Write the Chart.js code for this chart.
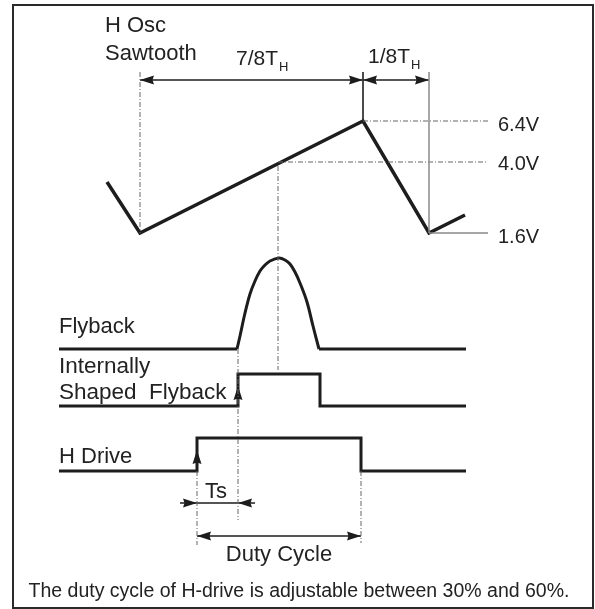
<!DOCTYPE html>
<html>
<head>
<meta charset="utf-8">
<script src="https://cdn.jsdelivr.net/npm/chart.js@4"></script>
<style>
  html, body { margin: 0; padding: 0; background: #fff; }
  #diagram { display: block; }
</style>
</head>
<body>
<canvas id="diagram" width="595" height="609"></canvas>
<script>
// waveform vertices (x = time, y = level)
const sawX = [107, 140, 363, 429, 465];
const sawY = [182, 233, 121, 233, 215];

const flybackBaseX = [59, 237];
const flybackTailX = [319, 466];
const flybackBaseY = 349;
const flybackArchX = [237, 240, 245, 250, 255, 260, 265, 270, 279, 285, 290, 295, 300, 307, 313, 319];
const flybackArchY = [349, 336, 313, 294, 281, 271, 265, 261, 258, 260, 264, 272, 283, 302, 326, 349];

const shapedX = [59, 238, 238, 320, 320, 466];
const shapedY = [406, 406, 374, 374, 406, 406];

const driveX = [59, 197, 197, 361, 361, 466];
const driveY = [471, 471, 438, 438, 471, 471];

// sawtooth voltage levels
const levelLabels = ['6.4V', '4.0V', '1.6V'];
const levelY = [121, 162, 233];
const levelStartX = [363, 278, 429];
const levelEndX = 488;

// dimension lines: [x from, x to, y]
const dimNames = ['7/8T', '1/8T', 'Ts', 'Duty Cycle'];
const dimFrom = [140, 363, 180, 197];
const dimTo = [363, 429, 255, 361];
const dimY = [80, 80, 503, 536];
// arrow tips: x, y, direction (deg)
const arrowX = [140, 363, 363, 429, 197, 238, 197, 361, 238, 197];
const arrowY = [80, 80, 80, 80, 503, 503, 536, 536, 386, 450];
const arrowDir = [180, 0, 180, 0, 0, 180, 180, 0, -90, -90];

// helper lines: x1, y1, x2, y2, kind
const guideX1 = [140, 363, 429, 278, 238, 197, 361];
const guideY1 = [72, 72, 72, 166, 349, 471, 471];
const guideX2 = [140, 363, 429, 278, 238, 197, 361];
const guideY2 = [233, 121, 233, 370, 520, 545, 543];
const guideKind = ['dashdot', 'solid', 'gray', 'dashdot', 'dashdot', 'dashdot', 'dashdot'];

const INK = '#1d1d1d';
const FONT = '"Liberation Sans", Arial, Helvetica, sans-serif';

function pts(xs, ys) {
  return xs.map((x, i) => ({ x: x, y: Array.isArray(ys) ? ys[i] : ys }));
}

// arrow head image, tip at the centre so it can sit on the data point
function makeArrow() {
  const c = document.createElement('canvas');
  c.width = 30;
  c.height = 12;
  const g = c.getContext('2d');
  g.fillStyle = INK;
  g.beginPath();
  g.moveTo(15, 6);
  g.lineTo(1, 1.5);
  g.lineTo(2.5, 6);
  g.lineTo(1, 10.5);
  g.closePath();
  g.fill();
  return c;
}
const arrowImg = makeArrow();

const datasets = [];

function wave(data, extra) {
  datasets.push(Object.assign({
    data: data,
    borderColor: INK,
    borderWidth: 3,
    pointRadius: 0,
    tension: 0,
    borderJoinStyle: 'miter',
    borderCapStyle: 'butt'
  }, extra || {}));
}

// guides first, so waveforms paint over them
guideKind.forEach((k, i) => {
  datasets.push({
    data: [{ x: guideX1[i], y: guideY1[i] }, { x: guideX2[i], y: guideY2[i] }],
    borderColor: k === 'gray' ? '#8a8a8a' : (k === 'solid' ? '#333' : '#666'),
    borderWidth: k === 'gray' ? 1.5 : 1,
    borderDash: k === 'dashdot' ? [5, 2, 1, 2] : [],
    pointRadius: 0
  });
});
levelY.forEach((y, i) => {
  datasets.push({
    data: [{ x: levelStartX[i], y: y }, { x: levelEndX, y: y }],
    borderColor: i === 2 ? '#8a8a8a' : '#666',
    borderWidth: i === 2 ? 1.5 : 1,
    borderDash: i === 2 ? [] : [5, 2, 1, 2],
    pointRadius: 0
  });
});
dimY.forEach((y, i) => {
  datasets.push({
    data: [{ x: dimFrom[i], y: y }, { x: dimTo[i], y: y }],
    borderColor: INK,
    borderWidth: 1.5,
    pointRadius: 0
  });
});

wave(pts(sawX, sawY), { borderWidth: 3.5 });
wave(pts(flybackBaseX, flybackBaseY));
wave(pts(flybackTailX, flybackBaseY));
wave(pts(flybackArchX, flybackArchY), { tension: 0.35 });
wave(pts(shapedX, shapedY));
wave(pts(driveX, driveY));

datasets.push({
  data: pts(arrowX, arrowY),
  showLine: false,
  pointStyle: arrowImg,
  rotation: arrowDir,
  pointRadius: 7
});

// text placed on the same grid
const texts = [
  { t: 'H Osc', x: 105, y: 32, size: 22 },
  { t: 'Sawtooth', x: 105, y: 60, size: 22 },
  { t: '7/8T', x: 236, y: 65, size: 21, sub: 'H' },
  { t: '1/8T', x: 368, y: 63, size: 21, sub: 'H' },
  { t: levelLabels[0], x: 498, y: levelY[0] + 10, size: 20 },
  { t: levelLabels[1], x: 498, y: levelY[1] + 8, size: 20 },
  { t: levelLabels[2], x: 498, y: levelY[2] + 10, size: 20 },
  { t: 'Flyback', x: 59, y: 333, size: 22 },
  { t: 'Internally', x: 59, y: 373, size: 22.5 },
  { t: 'Shaped  Flyback', x: 59, y: 399, size: 22.5 },
  { t: 'H Drive', x: 59, y: 463, size: 22 },
  { t: dimNames[2], x: 205, y: 498, size: 22 },
  { t: dimNames[3], x: 279, y: 561, size: 22, align: 'center' },
  { t: 'The duty cycle of H-drive is adjustable between 30% and 60%.', x: 299, y: 597, size: 19.5, align: 'center' }
];

const overlay = {
  id: 'overlay',
  beforeDraw(chart) {
    const ctx = chart.ctx;
    ctx.save();
    ctx.fillStyle = '#fff';
    ctx.fillRect(0, 0, chart.width, chart.height);
    ctx.restore();
  },
  afterDraw(chart) {
    const ctx = chart.ctx;
    const sx = chart.scales.x, sy = chart.scales.y;
    ctx.save();
    ctx.fillStyle = '#222';
    ctx.textBaseline = 'alphabetic';
    texts.forEach(o => {
      ctx.font = o.size + 'px ' + FONT;
      ctx.textAlign = o.align || 'left';
      const px = sx.getPixelForValue(o.x);
      const py = sy.getPixelForValue(o.y);
      ctx.fillText(o.t, px, py);
      if (o.sub) {
        const w = ctx.measureText(o.t).width;
        ctx.font = '13px ' + FONT;
        ctx.fillText(o.sub, px + w + 1, py + 6);
      }
    });
    // frame around the figure
    ctx.strokeStyle = '#2a2a2a';
    ctx.lineWidth = 2;
    ctx.strokeRect(sx.getPixelForValue(13), sy.getPixelForValue(5),
      sx.getPixelForValue(593) - sx.getPixelForValue(13),
      sy.getPixelForValue(608) - sy.getPixelForValue(5));
    ctx.restore();
  }
};

new Chart(document.getElementById('diagram'), {
  type: 'line',
  data: { datasets: datasets },
  options: {
    responsive: false,
    animation: false,
    layout: { padding: 0, autoPadding: false },
    plugins: { legend: { display: false }, tooltip: { enabled: false } },
    scales: {
      x: { type: 'linear', min: 0, max: 595, display: false },
      y: { type: 'linear', min: 0, max: 609, reverse: true, display: false }
    },
    elements: { line: { fill: false } }
  },
  plugins: [overlay]
});
</script>
</body>
</html>
